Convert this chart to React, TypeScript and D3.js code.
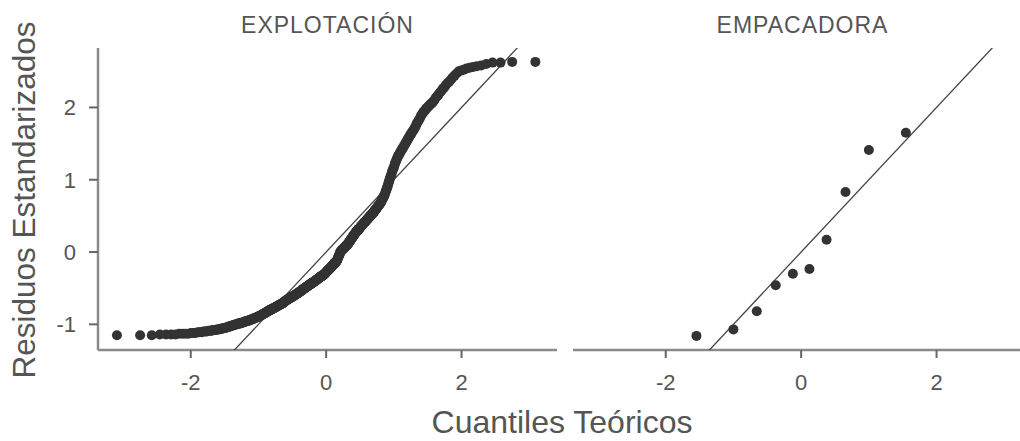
import React from "react";
import * as d3 from "d3";

// DATA
const panelTitles = ["EXPLOTACIÓN", "EMPACADORA"];
const xTicks = [-2, 0, 2];
const yTicks = [-1, 0, 1, 2];
const xTitle = "Cuantiles Teóricos";
const yTitle = "Residuos Estandarizados";

// sorted standardized residuals, EXPLOTACIÓN (n = 500)
const explotacionResid = [
  -1.15, -1.15, -1.15, -1.14, -1.14, -1.14, -1.14, -1.13, -1.13, -1.13, -1.13, -1.12,
  -1.12, -1.12, -1.11, -1.11, -1.11, -1.10,
  -1.10, -1.10, -1.09, -1.09, -1.09, -1.08, -1.08, -1.08, -1.07, -1.07, -1.07, -1.06,
  -1.06, -1.06, -1.05, -1.05, -1.05, -1.04, -1.04, -1.03, -1.03, -1.03, -1.02, -1.02, -1.01,
  -1.01, -1.01, -1.0, -1.0, -1.0, -0.99, -0.99, -0.99, -0.98, -0.98, -0.98, -0.97, -0.97, -0.97, -0.96,
  -0.96, -0.96, -0.95, -0.95, -0.95, -0.95, -0.94, -0.94, -0.94, -0.93, -0.93, -0.93, -0.92, -0.92,
  -0.92, -0.91, -0.91, -0.91, -0.9, -0.9, -0.9, -0.89,
  -0.89, -0.88, -0.88, -0.88, -0.87, -0.87, -0.86, -0.86, -0.86, -0.85, -0.85, -0.84, -0.84, -0.84,
  -0.83, -0.83, -0.82, -0.82, -0.82, -0.81, -0.81, -0.8,
  -0.8, -0.8, -0.79, -0.79, -0.79, -0.78, -0.78, -0.78, -0.77, -0.77, -0.77, -0.76, -0.76, -0.76,
  -0.75, -0.75, -0.75, -0.74, -0.74, -0.74, -0.73, -0.73, -0.73, -0.72, -0.72, -0.72, -0.71, -0.71,
  -0.71, -0.7, -0.7, -0.69, -0.69, -0.68, -0.68, -0.67,
  -0.67, -0.67, -0.66, -0.66, -0.66, -0.65, -0.65, -0.65, -0.64, -0.64, -0.64, -0.63, -0.63, -0.63,
  -0.62, -0.62, -0.62, -0.61, -0.61, -0.61, -0.6, -0.6, -0.6, -0.59, -0.59, -0.59, -0.58, -0.58,
  -0.58, -0.57, -0.57, -0.57, -0.56, -0.56, -0.56, -0.55, -0.55, -0.55, -0.54, -0.54, -0.54, -0.53,
  -0.53, -0.52, -0.52, -0.51,
  -0.51, -0.51, -0.5, -0.5, -0.5, -0.49, -0.49, -0.49, -0.48, -0.48, -0.48, -0.47, -0.47, -0.47,
  -0.46, -0.46, -0.46, -0.45, -0.45, -0.45, -0.44, -0.44, -0.44, -0.43, -0.43, -0.43, -0.42, -0.42,
  -0.42, -0.41, -0.41, -0.41, -0.4, -0.4, -0.4, -0.39, -0.39, -0.39, -0.38, -0.38, -0.38, -0.37,
  -0.37, -0.37, -0.36, -0.36, -0.35,
  -0.35, -0.35, -0.34, -0.34, -0.34, -0.33, -0.33, -0.33, -0.32, -0.32, -0.32, -0.31, -0.31, -0.31,
  -0.3, -0.3, -0.29, -0.29, -0.28,
  -0.28, -0.27, -0.27, -0.26, -0.26, -0.25, -0.25, -0.24, -0.24, -0.23, -0.23, -0.22, -0.22, -0.21,
  -0.21, -0.2, -0.2, -0.19, -0.19, -0.18, -0.18, -0.17, -0.17, -0.16, -0.16, -0.15, -0.15, -0.14,
  -0.14, -0.13, -0.13, -0.12,
  -0.11, -0.1, -0.08, -0.07, -0.06, -0.05, -0.04, -0.03, -0.01, 0.0,
  0.01, 0.01, 0.02, 0.02, 0.03, 0.03, 0.04, 0.04, 0.05, 0.05, 0.06, 0.06, 0.07, 0.07, 0.08, 0.08,
  0.09, 0.09, 0.1, 0.1, 0.11, 0.11, 0.12,
  0.13, 0.14, 0.14, 0.15, 0.16, 0.17, 0.17, 0.18, 0.19, 0.2, 0.2, 0.21, 0.22, 0.23, 0.23, 0.24,
  0.25, 0.26, 0.26, 0.27, 0.28, 0.28,
  0.29, 0.29, 0.3, 0.31, 0.31, 0.32, 0.32, 0.33, 0.34, 0.34, 0.35, 0.36, 0.36, 0.37, 0.37, 0.38,
  0.39, 0.39, 0.4, 0.41, 0.41, 0.42, 0.42, 0.43, 0.44, 0.44,
  0.45, 0.45, 0.46, 0.47, 0.47, 0.48, 0.49, 0.49, 0.5, 0.51, 0.51, 0.52, 0.53, 0.53, 0.54, 0.54, 0.55,
  0.56, 0.57, 0.58, 0.59, 0.59, 0.6, 0.61, 0.62, 0.63, 0.64, 0.64, 0.65, 0.66, 0.67, 0.68,
  0.69, 0.7, 0.72, 0.73, 0.74, 0.76, 0.77, 0.78, 0.8,
  0.82, 0.84, 0.86, 0.88, 0.9, 0.92, 0.95, 0.97, 0.99, 1.02, 1.04,
  1.06, 1.08, 1.11, 1.13, 1.15, 1.17, 1.19, 1.22, 1.24, 1.26, 1.28, 1.3,
  1.32, 1.33, 1.35, 1.36, 1.38, 1.39, 1.41, 1.42, 1.44, 1.45, 1.47, 1.48, 1.5,
  1.52, 1.53, 1.55, 1.57, 1.58, 1.6, 1.62, 1.63, 1.65, 1.67, 1.68, 1.7,
  1.72, 1.74, 1.77, 1.79, 1.81, 1.83, 1.85, 1.88, 1.9, 1.92,
  1.94, 1.95, 1.97, 1.99, 2.0, 2.02, 2.03, 2.05, 2.06, 2.08,
  2.1, 2.13, 2.15, 2.17, 2.2, 2.22,
  2.25, 2.27, 2.3, 2.33, 2.35, 2.38,
  2.41, 2.44, 2.47, 2.5,
  2.51, 2.52, 2.54, 2.55,
  2.56, 2.57, 2.58,
  2.6, 2.62, 2.62, 2.63, 2.63,
];

// sorted standardized residuals, EMPACADORA (n = 10)
const empacadoraResid = [-1.16, -1.07, -0.82, -0.46, -0.3, -0.235, 0.17, 0.83, 1.41, 1.65];

// inverse normal cdf (Acklam)
const qnorm = (p: number) => {
  const a = [-39.69683028665376, 220.9460984245205, -275.9285104469687, 138.357751867269, -30.66479806614716, 2.506628277459239];
  const b = [-54.47609879822406, 161.5858368580409, -155.6989798598866, 66.80131188771972, -13.28068155288572];
  const c = [-0.007784894002430293, -0.3223964580411365, -2.400758277161838, -2.549732539343734, 4.374664141464968, 2.938163982698783];
  const d = [0.007784695709041462, 0.3224671290700398, 2.445134137142996, 3.754408661907416];
  const plow = 0.02425;
  if (p < plow) {
    const q = Math.sqrt(-2 * Math.log(p));
    return (((((c[0] * q + c[1]) * q + c[2]) * q + c[3]) * q + c[4]) * q + c[5]) /
      ((((d[0] * q + d[1]) * q + d[2]) * q + d[3]) * q + 1);
  }
  if (p <= 1 - plow) {
    const q = p - 0.5;
    const r = q * q;
    return ((((((a[0] * r + a[1]) * r + a[2]) * r + a[3]) * r + a[4]) * r + a[5]) * q) /
      (((((b[0] * r + b[1]) * r + b[2]) * r + b[3]) * r + b[4]) * r + 1);
  }
  const q = Math.sqrt(-2 * Math.log(1 - p));
  return -(((((c[0] * q + c[1]) * q + c[2]) * q + c[3]) * q + c[4]) * q + c[5]) /
    ((((d[0] * q + d[1]) * q + d[2]) * q + d[3]) * q + 1);
};

// theoretical quantiles like R's ppoints
const qqPoints = (resid: number[]) => {
  const n = resid.length;
  const a = n <= 10 ? 3 / 8 : 1 / 2;
  return resid.map((r, i) => ({ q: qnorm((i + 1 - a) / (n + 1 - 2 * a)), r }));
};

const font = "'Liberation Sans', Arial, sans-serif";
const axisColor = "#8a8a8a";
const textColor = "#555";
const dotColor = "#333";

export default function App() {
  const W = 1020;
  const H = 441;
  const top = 48;
  const bottom = 350;

  const yScale = d3.scaleLinear().domain([-1.355, 2.822]).range([bottom, top]);
  const xDomain = [-3.37, 3.41];
  const panels = [
    { title: panelTitles[0], data: qqPoints(explotacionResid), x: d3.scaleLinear().domain(xDomain).range([98, 557]) },
    { title: panelTitles[1], data: qqPoints(empacadoraResid), x: d3.scaleLinear().domain(xDomain).range([573, 1032]) },
  ];

  return (
    <div>
      <style>{`body{margin:0}`}</style>
      <svg width={W} height={H} style={{ display: "block", background: "#fff" }} fontFamily={font}>
        <defs>
          {panels.map((p, k) => (
            <clipPath id={`clip${k}`} key={k}>
              <rect x={p.x.range()[0]} y={top} width={p.x.range()[1] - p.x.range()[0]} height={bottom - top} />
            </clipPath>
          ))}
        </defs>

        {panels.map((p, k) => {
          const [x0, x1] = p.x.range();
          const line = d3
            .line<number>()
            .x((d) => p.x(d))
            .y((d) => yScale(d));
          return (
            <g key={k}>
              {/* panel title */}
              <text x={(x0 + x1) / 2} y={33} textAnchor="middle" fontSize={23} letterSpacing={1} fill={textColor}>
                {p.title}
              </text>

              {/* x axis */}
              <line x1={x0} x2={x1} y1={bottom} y2={bottom} stroke={axisColor} strokeWidth={2.5} />
              {xTicks.map((t) => (
                <g key={t} transform={`translate(${p.x(t)},0)`}>
                  <line y1={bottom} y2={bottom + 8} stroke="#666" strokeWidth={2} />
                  <text y={390} textAnchor="middle" fontSize={22} fill={textColor}>
                    {t}
                  </text>
                </g>
              ))}

              {/* reference line y = x */}
              <path
                d={line(xDomain) ?? ""}
                clipPath={`url(#clip${k})`}
                fill="none"
                stroke="#444"
                strokeWidth={1.3}
              />

              {/* points */}
              {p.data.map((d, i) => (
                <circle key={i} cx={p.x(d.q)} cy={yScale(d.r)} r={5} fill={dotColor} />
              ))}
            </g>
          );
        })}

        {/* y axis, left panel only */}
        <line x1={98} x2={98} y1={top} y2={bottom} stroke={axisColor} strokeWidth={2.5} />
        {yTicks.map((t) => (
          <g key={t} transform={`translate(0,${yScale(t)})`}>
            <line x1={89} x2={98} stroke="#666" strokeWidth={2} />
            <text x={76} dy="0.36em" textAnchor="end" fontSize={22} fill={textColor}>
              {t}
            </text>
          </g>
        ))}

        {/* axis titles */}
        <text x={562} y={433} textAnchor="middle" fontSize={32} fill={textColor}>
          {xTitle}
        </text>
        <text transform="translate(35,200) rotate(-90)" textAnchor="middle" fontSize={31.5} fill={textColor}>
          {yTitle}
        </text>
      </svg>
    </div>
  );
}
